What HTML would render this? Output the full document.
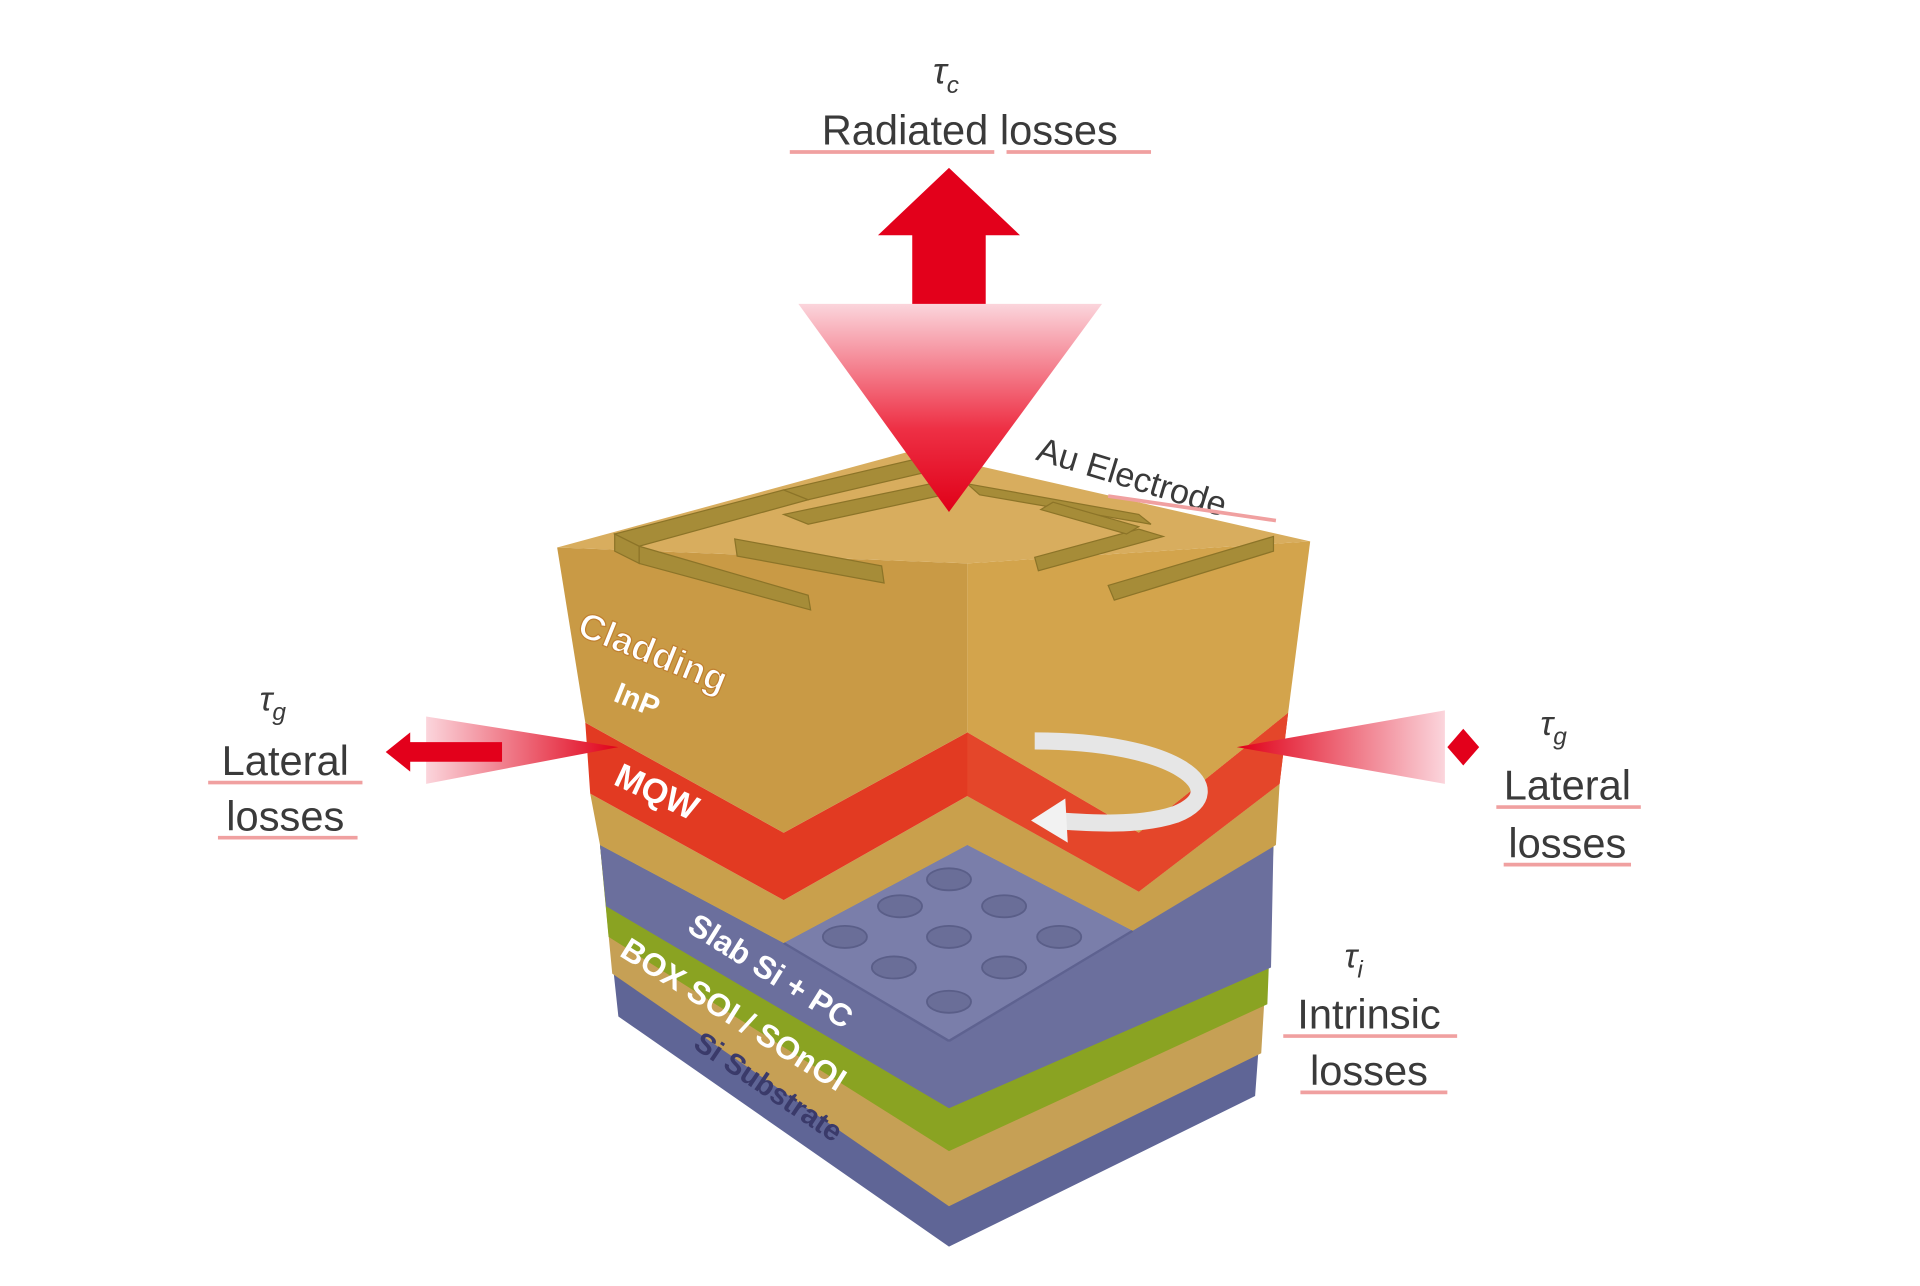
<!DOCTYPE html>
<html><head><meta charset="utf-8"><style>
html,body{margin:0;padding:0;background:#fff;}
svg{display:block}
.hand{font-family:"Liberation Sans",sans-serif;fill:#3a3a3a;}
.lbl{font-family:"Liberation Sans",sans-serif;font-weight:bold;fill:#fff;}
</style></head><body>
<svg width="1920" height="1286" viewBox="0 0 1568 1050" xmlns="http://www.w3.org/2000/svg">
<defs>
<linearGradient id="gd" x1="0" y1="0" x2="0" y2="1">
<stop offset="0" stop-color="#fbd5dc"/><stop offset="0.6" stop-color="#ee3045"/><stop offset="1" stop-color="#e00018"/></linearGradient>
<linearGradient id="gl" x1="0" y1="0" x2="1" y2="0">
<stop offset="0" stop-color="#fbd5dc"/><stop offset="1" stop-color="#e00018"/></linearGradient>
<linearGradient id="gr" x1="1" y1="0" x2="0" y2="0">
<stop offset="0" stop-color="#fbd5dc"/><stop offset="1" stop-color="#e00018"/></linearGradient>
</defs>
<rect width="1568" height="1050" fill="#fff"/>

<polygon points="490,690 640,770 790,690 925,760 1040,690 1025,895 775,1018 505,830" fill="#5f6596"/>
<polygon points="490,690 640,770 790,690 925,760 1040,690 1030,860 775,985 500,795" fill="#c6a055"/>
<polygon points="490,690 640,770 790,690 925,760 1040,690 1035,820 775,940 497,765" fill="#8aa322"/>
<polygon points="490,690 640,770 790,690 925,760 1040,690 1038,790 775,905 495,740" fill="#6b6f9d"/>
<polygon points="640,770 790,690 925,760 775,850" fill="#7a7eaa"/>
<line x1="640" y1="770" x2="775" y2="850" stroke="#5e6290" stroke-width="2"/>
<line x1="775" y1="850" x2="925" y2="760" stroke="#5e6290" stroke-width="2"/>
<g fill="#6a6e98" stroke="#5a5e88" stroke-width="1.5">
<ellipse cx="775" cy="718" rx="18" ry="9"/><ellipse cx="735" cy="740" rx="18" ry="9"/><ellipse cx="820" cy="740" rx="18" ry="9"/>
<ellipse cx="690" cy="765" rx="18" ry="9"/><ellipse cx="775" cy="765" rx="18" ry="9"/><ellipse cx="865" cy="765" rx="18" ry="9"/>
<ellipse cx="730" cy="790" rx="18" ry="9"/><ellipse cx="820" cy="790" rx="18" ry="9"/><ellipse cx="775" cy="818" rx="18" ry="9"/>
</g>
<polygon points="482,648 640,735 790,650 930,728 1045,640 1042,690 925,760 790,690 640,770 490,690" fill="#c9a04c"/>
<polygon points="478,590 640,680 790,598 930,680 1052,582 1045,640 930,728 790,650 640,735 482,648" fill="#e23a22"/>
<polygon points="790,598 930,680 1052,582 1045,640 930,728 790,650" fill="#e4462a"/>
<polygon points="455,447 790,460 790,598 640,680 478,590" fill="#c99a45"/>
<polygon points="790,460 1070,442 1052,582 930,680 790,598" fill="#d3a44c"/>
<polygon points="455,447 745,368 1070,442 790,460" fill="#d8ad5e"/>
<g fill="#a68c38" stroke="#8c7428" stroke-width="1">
<polygon points="502,436 640,400 660,408 522,446"/>
<polygon points="502,436 522,446 522,460 502,450"/>
<polygon points="522,446 660,486 662,498 522,460"/>
<polygon points="640,400 760,372 780,380 660,408"/>
<polygon points="600,440 720,462 722,476 602,454"/>
<polygon points="640,420 760,395 780,402 660,428"/>
<polygon points="845,455 930,432 950,438 848,466"/>
<polygon points="905,478 1040,438 1040,450 910,490"/>
<polygon points="790,395 930,420 940,428 800,404"/>
<polygon points="860,410 930,430 920,436 850,416"/>
</g>
<path d="M845,605 C960,605 1010,645 960,665 C930,675 890,672 860,670" fill="none" stroke="#e6e6e6" stroke-width="14"/>
<polygon points="842,670 870,652 872,688" fill="#f2f2f2"/>

<text class="lbl" font-size="30" transform="translate(470,518) rotate(22)" stroke="#c08030" stroke-width="1">Cladding</text>
<text class="lbl" font-size="24" transform="translate(500,572) rotate(22)">InP</text>
<text class="lbl" font-size="28" transform="translate(500,640) rotate(25)">MQW</text>
<text class="lbl" font-size="26" transform="translate(560,760) rotate(32)">Slab Si + PC</text>
<text class="lbl" font-size="26" transform="translate(505,780) rotate(32)">BOX SOI / SOnOI</text>
<text class="lbl" font-size="24" style="fill:#3a3a6a" transform="translate(565,855) rotate(34)">Si Substrate</text>

<polygon points="717,192 775,137 833,192 805,192 805,250 745,250 745,192" fill="#e3001b"/>
<polygon points="652,248 900,248 775,418" fill="url(#gd)"/>
<polygon points="348,585 505,610 348,640" fill="url(#gl)"/>
<polygon points="315,614 335,598 335,606 410,606 410,622 335,622 335,630" fill="#e3001b"/>
<polygon points="1010,610 1180,580 1180,640" fill="url(#gr)"/>
<polygon points="1195,595 1208,610 1195,625 1182,610" fill="#e3001b"/>

<text class="hand" font-size="30" font-style="italic" x="762" y="68">τ<tspan font-size="20" dy="8">c</tspan></text>
<text class="hand" font-size="34" x="792" y="118" text-anchor="middle">Radiated losses</text>
<line x1="645" y1="124" x2="812" y2="124" stroke="#f0a0a0" stroke-width="3"/>
<line x1="822" y1="124" x2="940" y2="124" stroke="#f0a0a0" stroke-width="3"/>
<text class="hand" font-size="28" font-style="italic" x="212" y="580">τ<tspan font-size="20" dy="8">g</tspan></text>
<text class="hand" font-size="34" x="233" y="633" text-anchor="middle">Lateral</text>
<line x1="170" y1="639" x2="296" y2="639" stroke="#f0a0a0" stroke-width="3"/>
<text class="hand" font-size="34" x="233" y="678" text-anchor="middle">losses</text>
<line x1="178" y1="684" x2="292" y2="684" stroke="#f0a0a0" stroke-width="3"/>
<text class="hand" font-size="28" font-style="italic" x="1258" y="600">τ<tspan font-size="20" dy="8">g</tspan></text>
<text class="hand" font-size="34" x="1280" y="653" text-anchor="middle">Lateral</text>
<line x1="1222" y1="659" x2="1340" y2="659" stroke="#f0a0a0" stroke-width="3"/>
<text class="hand" font-size="34" x="1280" y="700" text-anchor="middle">losses</text>
<line x1="1228" y1="706" x2="1332" y2="706" stroke="#f0a0a0" stroke-width="3"/>
<text class="hand" font-size="28" font-style="italic" x="1098" y="790">τ<tspan font-size="20" dy="8">i</tspan></text>
<text class="hand" font-size="34" x="1118" y="840" text-anchor="middle">Intrinsic</text>
<line x1="1048" y1="846" x2="1190" y2="846" stroke="#f0a0a0" stroke-width="3"/>
<text class="hand" font-size="34" x="1118" y="886" text-anchor="middle">losses</text>
<line x1="1062" y1="892" x2="1182" y2="892" stroke="#f0a0a0" stroke-width="3"/>
<text class="hand" font-size="28" transform="translate(845,375) rotate(17)">Au Electrode</text>
<line x1="905" y1="405" x2="1042" y2="425" stroke="#f0a0a0" stroke-width="3"/>
</svg>
</body></html>
